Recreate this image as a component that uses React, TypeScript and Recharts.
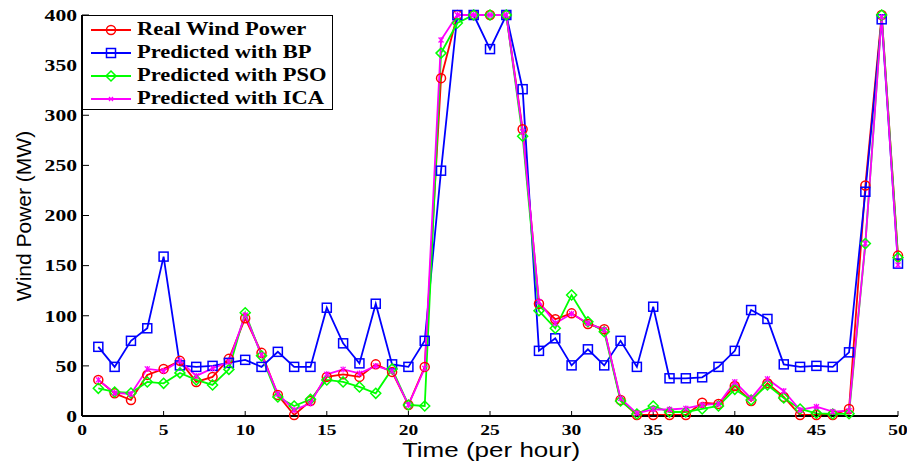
import React from 'react';
import { LineChart, Line, XAxis, YAxis, Legend } from 'recharts';

const hours = Array.from({ length: 50 }, (_, i) => i + 1);

const realWind = [36, 22.6, 16, 41, 47, 55, 34, 39, 57, 97.5, 63, 21, 1, 15, 39, 41.6, 39, 51.5, 44, 11, 49, 337, 400, 400, 400, 400, 286, 112, 96.5, 102.4, 91.8, 86.5, 16, 1, 1, 1, 1, 13.3, 12, 30, 15, 32.6, 19, 1, 1, 1, 7, 230, 400, 160];
const predBP = [69, 49, 75, 87.5, 159, 50.5, 49, 50, 53, 56, 49, 64, 49, 49, 108, 72.5, 52.5, 112, 51.5, 49, 75, 244.7, 400, 400, 366, 400, 326, 65, 77.5, 50.5, 66.5, 50.5, 75, 49, 109, 37.6, 37.6, 38.6, 49, 65, 105.7, 96.8, 51.5, 49, 50, 49, 63.5, 223.7, 395.7, 152];
const predPSO = [27.6, 24, 23, 34, 32.6, 43, 36, 31, 46.5, 103, 60, 19, 10, 16.6, 36, 34, 29, 22.6, 47, 11, 10, 362, 392, 400, 400, 400, 279, 105, 87.5, 120.7, 94, 84, 15, 2, 10, 4, 4, 7, 10, 26.6, 16, 31, 18, 7, 2.7, 2, 2.3, 172, 400, 158];
const predICA = [36, 23, 22, 47, 45, 55, 40, 47.5, 54, 100.7, 61, 22, 6, 12.6, 41.6, 46.5, 42.5, 50, 45, 11, 47.5, 375, 400, 400, 400, 400, 283.6, 114, 92.5, 102, 92.5, 86, 17.6, 2.7, 6.7, 6.5, 7.6, 11, 12, 34, 17.6, 37, 25, 6, 9.3, 4.3, 5.3, 172, 398, 150.6];

const xTicks = [0, 5, 10, 15, 20, 25, 30, 35, 40, 45, 50];
const yTicks = [0, 50, 100, 150, 200, 250, 300, 350, 400];

const seriesNames = ['Real Wind Power', 'Predicted with BP', 'Predicted with PSO', 'Predicted with ICA'];
const seriesColors = ['#ff0000', '#0000ff', '#00ff00', '#ff00ff'];

const data = hours.map((h, i) => ({
  t: h,
  real: realWind[i],
  bp: predBP[i],
  pso: predPSO[i],
  ica: predICA[i],
}));

const tickFont = '"Liberation Serif", "Times New Roman", serif';
const labelFont = '"Liberation Sans", Arial, sans-serif';

function markerShape(kind: number, cx: number, cy: number, color: string, key?: string) {
  if (kind === 0) {
    return <circle key={key} cx={cx} cy={cy} r={4.5} fill="none" stroke={color} strokeWidth={1.5} />;
  }
  if (kind === 1) {
    return <rect key={key} x={cx - 4.5} y={cy - 4.5} width={9} height={9} fill="none" stroke={color} strokeWidth={1.5} />;
  }
  if (kind === 2) {
    return (
      <polygon
        key={key}
        points={`${cx},${cy - 5} ${cx + 5},${cy} ${cx},${cy + 5} ${cx - 5},${cy}`}
        fill="none"
        stroke={color}
        strokeWidth={1.5}
      />
    );
  }
  return (
    <g key={key} stroke={color} strokeWidth={1.3}>
      <line x1={cx - 2.5} y1={cy - 2.5} x2={cx + 2.5} y2={cy + 2.5} />
      <line x1={cx - 2.5} y1={cy + 2.5} x2={cx + 2.5} y2={cy - 2.5} />
      <line x1={cx} y1={cy - 3} x2={cx} y2={cy + 3} />
    </g>
  );
}

const makeDot = (kind: number) => (props: any) => {
  const { cx, cy, index } = props;
  if (cx == null || cy == null) return <g key={`d${kind}-${index}`} />;
  return markerShape(kind, cx, cy, seriesColors[kind], `d${kind}-${index}`);
};

const XTick = (props: any) => {
  const { x, y, payload } = props;
  return (
    <g transform={`translate(${x},${y})`}>
      <text
        transform="scale(1.3,1)"
        textAnchor="middle"
        dy="0.71em"
        fontFamily={tickFont}
        fontWeight="bold"
        fontSize={15}
        fill="#000"
      >
        {payload.value}
      </text>
    </g>
  );
};

const YTick = (props: any) => {
  const { x, y, payload } = props;
  return (
    <g transform={`translate(${x},${y})`}>
      <text
        transform="scale(1.35,1)"
        textAnchor="end"
        dy="0.36em"
        fontFamily={tickFont}
        fontWeight="bold"
        fontSize={16}
        fill="#000"
      >
        {payload.value}
      </text>
    </g>
  );
};

const NoTick = () => <g />;

const renderLegend = () => (
  <div
    style={{
      border: '1px solid #000',
      background: '#fff',
      width: 251,
      height: 95,
      boxSizing: 'border-box',
      paddingTop: 2,
    }}
  >
    {seriesNames.map((name, i) => (
      <div key={name} style={{ display: 'flex', alignItems: 'center', height: 23 }}>
        <svg width={54} height={14} style={{ flex: 'none' }}>
          <line x1={8} y1={7} x2={48} y2={7} stroke={seriesColors[i]} strokeWidth={2} />
          {i === 3 ? (
            <g stroke={seriesColors[i]} strokeWidth={1.3}>
              <line x1={26} y1={5} x2={30} y2={9} />
              <line x1={26} y1={9} x2={30} y2={5} />
            </g>
          ) : (
            markerShape(i, 28, 7, seriesColors[i])
          )}
        </svg>
        <span
          style={{
            fontFamily: tickFont,
            fontWeight: 'bold',
            fontSize: 18,
            color: '#000',
            whiteSpace: 'nowrap',
            display: 'inline-block',
            transform: 'scaleX(1.25)',
            transformOrigin: 'left center',
            lineHeight: '23px',
          }}
        >
          {name}
        </span>
      </div>
    ))}
  </div>
);

const YTitle = () => (
  <text
    x={31}
    y={216}
    transform="rotate(-90 31 216)"
    textAnchor="middle"
    fontFamily={labelFont}
    fontSize={21}
    fill="#000"
  >
    Wind Power (MW)
  </text>
);

const XTitle = () => (
  <g transform="translate(491,457)">
    <text
      transform="scale(1.3,1)"
      textAnchor="middle"
      fontFamily={labelFont}
      fontSize={20}
      fill="#000"
    >
      Time (per hour)
    </text>
  </g>
);

export default function App() {
  return (
    <div style={{ position: 'absolute', left: 0, top: 0, width: 907, height: 461, background: '#fff' }}>
      <LineChart
        width={907}
        height={461}
        data={data}
        margin={{ top: 15, right: 9, left: 0, bottom: 0 }}
      >
        <XAxis
          xAxisId="bottom"
          dataKey="t"
          type="number"
          domain={[0, 50]}
          ticks={xTicks}
          height={45}
          tickSize={-5}
          tickMargin={13}
          tick={<XTick />}
          axisLine={{ stroke: '#000', strokeWidth: 2 }}
          tickLine={{ stroke: '#000', strokeWidth: 1 }}
          label={<XTitle />}
        />
        <XAxis
          xAxisId="top"
          orientation="top"
          dataKey="t"
          type="number"
          domain={[0, 50]}
          ticks={xTicks}
          height={0}
          tickSize={-5}
          tick={<NoTick />}
          axisLine={{ stroke: '#000', strokeWidth: 1 }}
          tickLine={{ stroke: '#000', strokeWidth: 1 }}
        />
        <YAxis
          yAxisId="left"
          type="number"
          domain={[0, 400]}
          ticks={yTicks}
          width={82}
          tickSize={-7}
          tickMargin={12}
          tick={<YTick />}
          axisLine={{ stroke: '#000', strokeWidth: 2 }}
          tickLine={{ stroke: '#000', strokeWidth: 1 }}
          label={<YTitle />}
        />
        <YAxis
          yAxisId="right"
          orientation="right"
          type="number"
          domain={[0, 400]}
          ticks={yTicks}
          width={0}
          tickSize={-7}
          tick={<NoTick />}
          axisLine={{ stroke: '#000', strokeWidth: 1 }}
          tickLine={{ stroke: '#000', strokeWidth: 1 }}
        />
        <Legend
          layout="vertical"
          align="center"
          verticalAlign="middle"
          content={renderLegend}
          wrapperStyle={{ position: 'absolute', left: 82, top: 15, width: 251, height: 95 }}
        />
        <Line
          xAxisId="bottom"
          yAxisId="left"
          dataKey="real"
          name={seriesNames[0]}
          stroke={seriesColors[0]}
          strokeWidth={1.8}
          dot={makeDot(0)}
          activeDot={false}
          isAnimationActive={false}
        />
        <Line
          xAxisId="bottom"
          yAxisId="left"
          dataKey="bp"
          name={seriesNames[1]}
          stroke={seriesColors[1]}
          strokeWidth={1.8}
          dot={makeDot(1)}
          activeDot={false}
          isAnimationActive={false}
        />
        <Line
          xAxisId="bottom"
          yAxisId="left"
          dataKey="pso"
          name={seriesNames[2]}
          stroke={seriesColors[2]}
          strokeWidth={1.8}
          dot={makeDot(2)}
          activeDot={false}
          isAnimationActive={false}
        />
        <Line
          xAxisId="bottom"
          yAxisId="left"
          dataKey="ica"
          name={seriesNames[3]}
          stroke={seriesColors[3]}
          strokeWidth={1.8}
          dot={makeDot(3)}
          activeDot={false}
          isAnimationActive={false}
        />
      </LineChart>
    </div>
  );
}
